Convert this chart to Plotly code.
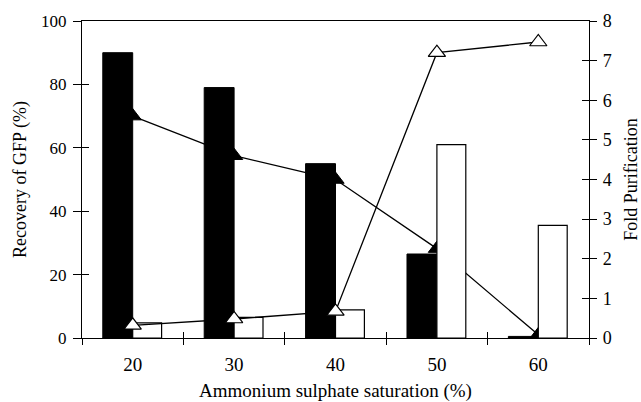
import plotly.graph_objects as go

categories = ["20", "30", "40", "50", "60"]
recovery_bars = [90, 79, 55, 26.5, 0.5]          # black bars, left axis (%)
fold_bars = [0.38, 0.52, 0.71, 4.88, 2.84]        # white bars, right axis
recovery_line = [70, 57.5, 50, 28.2, 1.0]         # filled triangles, left axis
fold_line = [0.32, 0.48, 0.67, 7.2, 7.47]         # open triangles, right axis

FONT = "Liberation Serif, Times New Roman, serif"

fig = go.Figure()

fig.add_trace(go.Bar(x=categories, y=recovery_bars, xaxis="x", yaxis="y",
                     marker=dict(color="black", line=dict(color="black", width=1)),
                     width=0.295, offset=-0.295, showlegend=False))
fig.add_trace(go.Bar(x=categories, y=fold_bars, xaxis="x", yaxis="y2",
                     marker=dict(color="white", line=dict(color="black", width=1.2)),
                     width=0.285, offset=0.0, showlegend=False))
fig.add_trace(go.Scatter(x=categories, y=recovery_line, xaxis="x", yaxis="y",
                         mode="lines+markers",
                         line=dict(color="black", width=1.3),
                         marker=dict(symbol="triangle-up", size=15, color="black",
                                     line=dict(color="black", width=1)),
                         showlegend=False))
fig.add_trace(go.Scatter(x=categories, y=fold_line, xaxis="x", yaxis="y2",
                         mode="lines+markers",
                         line=dict(color="black", width=1.3),
                         marker=dict(symbol="triangle-up", size=15, color="white",
                                     line=dict(color="black", width=1.2)),
                         showlegend=False))
# invisible traces carrying overlay axes that draw the inner half of the crossing ticks
empty = [None] * len(categories)
fig.add_trace(go.Scatter(x=categories, y=empty, xaxis="x3", yaxis="y",
                         mode="markers", showlegend=False, hoverinfo="skip"))
fig.add_trace(go.Scatter(x=categories, y=empty, xaxis="x", yaxis="y3",
                         mode="markers", showlegend=False, hoverinfo="skip"))
fig.add_trace(go.Scatter(x=categories, y=empty, xaxis="x", yaxis="y4",
                         mode="markers", showlegend=False, hoverinfo="skip"))

common_x = dict(type="category", categoryorder="array", categoryarray=categories,
                range=[-0.5, 4.5], tickson="boundaries", tickcolor="black",
                tickwidth=1.2, ticklen=6, showgrid=False, zeroline=False)
common_y1 = dict(range=[0, 100], dtick=20, tickwidth=1.2, tickcolor="black",
                 showgrid=False, zeroline=False)
common_y2 = dict(range=[0, 8], dtick=1, tickwidth=1.2, tickcolor="black",
                 showgrid=False, zeroline=False)

fig.update_layout(
    width=641, height=402,
    margin=dict(l=82, r=52, t=21, b=64, autoexpand=False),
    paper_bgcolor="white", plot_bgcolor="white",
    font=dict(family=FONT, size=18, color="black"),
    barmode="overlay",
    xaxis=dict(**common_x, ticks="outside", showline=True, mirror=True,
               linecolor="black", linewidth=1.2,
               tickfont=dict(family=FONT, size=19), ticklabelstandoff=9,
               title=dict(text="Ammonium sulphate saturation (%)",
                          font=dict(family=FONT, size=19), standoff=10)),
    xaxis3=dict(**common_x, ticks="inside", overlaying="x", anchor="y",
                showticklabels=False, showline=False),
    yaxis=dict(**common_y1, ticks="outside", ticklen=8,
               showline=True, linecolor="black", linewidth=1.2,
               tickfont=dict(family=FONT, size=17), ticklabelstandoff=3,
               title=dict(text="Recovery of GFP (%)", font=dict(family=FONT, size=18),
                          standoff=9)),
    yaxis3=dict(**common_y1, ticks="inside", ticklen=7, overlaying="y", side="left",
                anchor="x", showticklabels=False, showline=False),
    yaxis2=dict(**common_y2, ticks="outside", ticklen=7,
                showline=True, linecolor="black", linewidth=1.2,
                overlaying="y", side="right", anchor="x",
                tickfont=dict(family=FONT, size=18), ticklabelstandoff=2,
                title=dict(text="Fold Purification", font=dict(family=FONT, size=18),
                           standoff=14)),
    yaxis4=dict(**common_y2, ticks="inside", ticklen=7, overlaying="y", side="right",
                anchor="x", showticklabels=False, showline=False),
)

fig.write_html("out.html")
